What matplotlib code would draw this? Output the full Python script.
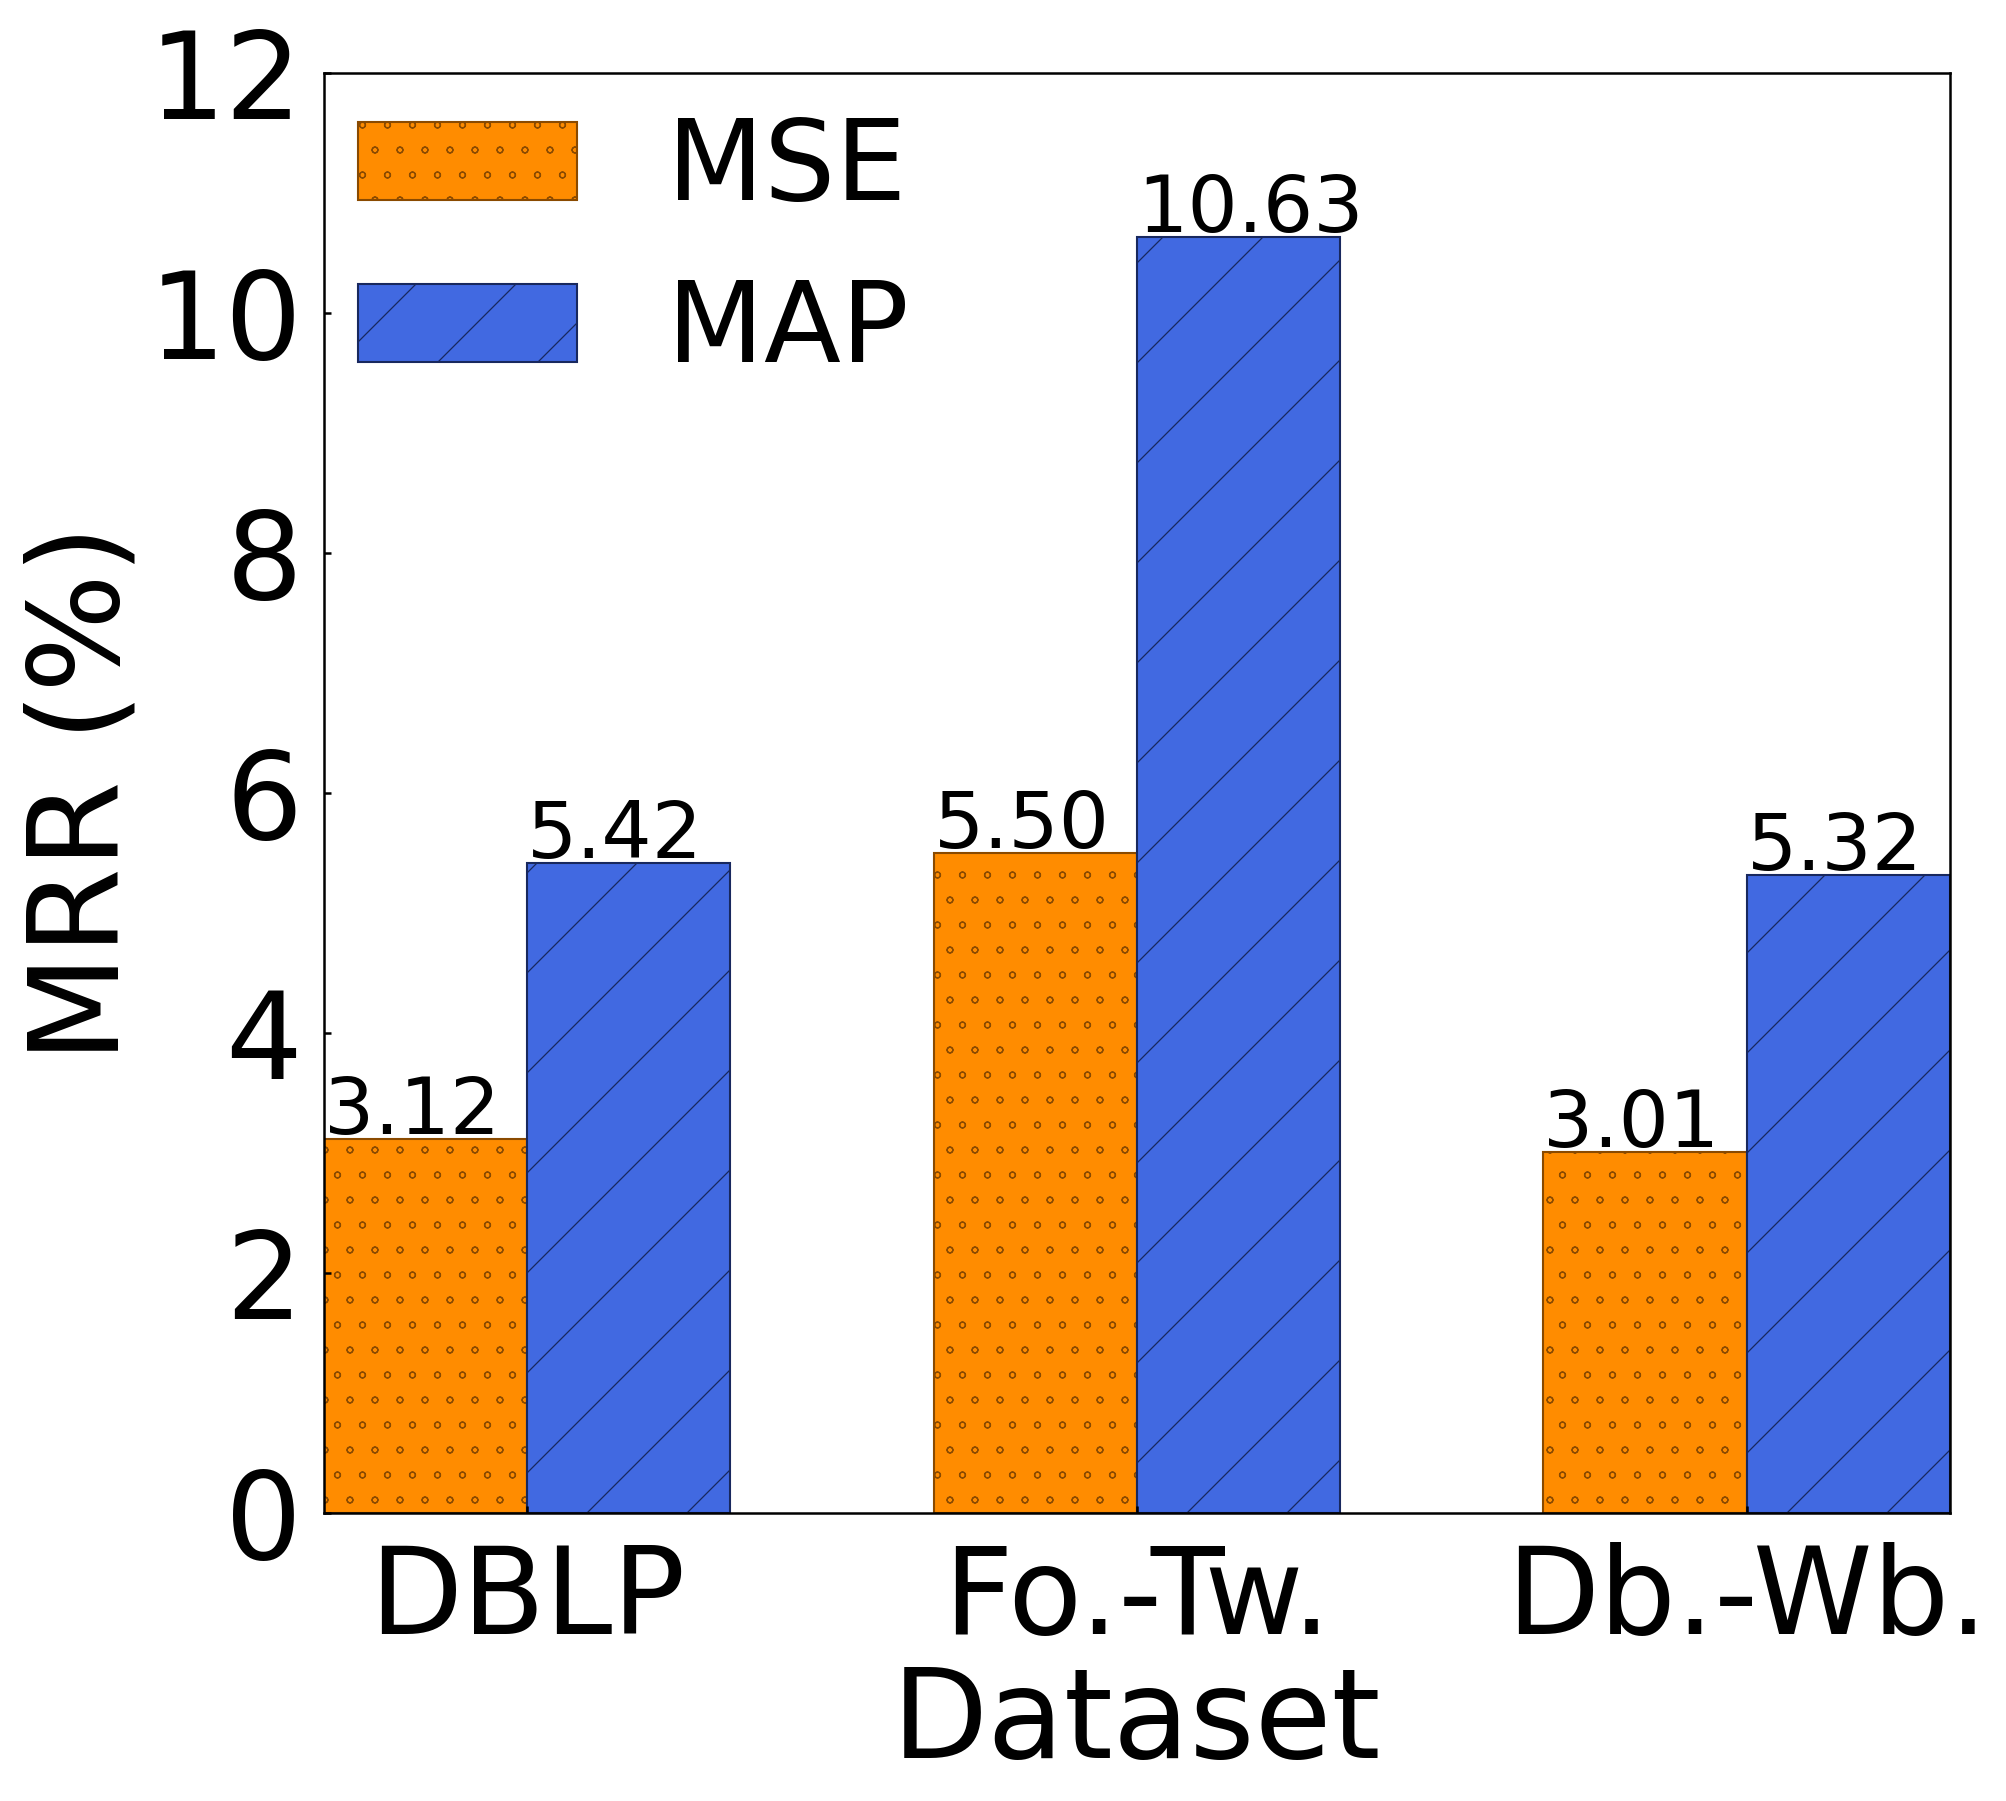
import matplotlib
matplotlib.use("Agg")
import matplotlib.pyplot as plt
import matplotlib.hatch as mhatch
import numpy as np

datasets = ['DBLP', 'Fo.-Tw.', 'Db.-Wb.']
mse_values = [3.12, 5.50, 3.01]
map_values = [5.42, 10.63, 5.32]

plt.rcParams['hatch.linewidth'] = 0.3
plt.rcParams['font.family'] = 'DejaVu Sans'
# smaller rings for the 'o' hatch, as in the original
mhatch.SmallCircles.size = 0.12

fig = plt.figure(figsize=(2006 / 300, 1801 / 300), dpi=300)
ax = fig.add_axes([0.1615, 0.1599, 0.8105, 0.7996])

x = np.arange(len(datasets))
width = 1 / 3

b1 = ax.bar(x - width / 2, mse_values, width, color='#FF8C00', edgecolor='#8a4a00',
            linewidth=0.5, hatch='oo', label='MSE')
b2 = ax.bar(x + width / 2, map_values, width, color='#4169E1', edgecolor='#18285e',
            linewidth=0.5, hatch='/', label='MAP')

# value labels start at the left edge of each bar, sitting on its top
for bars, vals in [(b1, mse_values), (b2, map_values)]:
    for rect, v in zip(bars, vals):
        ax.annotate(f'{v:.2f}', (rect.get_x(), rect.get_height()),
                    xytext=(0, 1.2), textcoords='offset points', fontsize=19,
                    ha='left', va='baseline')

ax.set_xlim(-width, len(datasets) - 1 + width)
ax.set_ylim(0, 12)
ax.set_xticks(x)
ax.set_xticklabels(datasets)
ax.set_yticks([0, 2, 4, 6, 8, 10, 12])
ax.tick_params(axis='both', direction='in', length=1.7, width=0.6, labelsize=29)
ax.tick_params(axis='y', pad=5.2)
ax.tick_params(axis='x', pad=7)
for s in ax.spines.values():
    s.set_linewidth(0.6)

ax.set_xlabel('Dataset', fontsize=30, labelpad=1)
ax.set_ylabel('MRR (%)', fontsize=30, labelpad=1)

ax.legend(loc='upper left', bbox_to_anchor=(0, 0.994), fontsize=27, frameon=False,
          handlelength=1.95, handleheight=0.7, handletextpad=0.8, labelspacing=0.48,
          borderaxespad=0.1, borderpad=0.2)

fig.savefig('out.png', dpi=300)
